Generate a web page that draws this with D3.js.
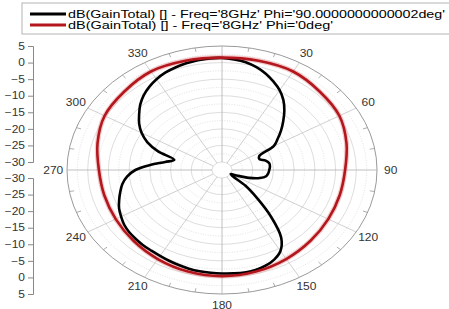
<!DOCTYPE html>
<html>
<head>
<meta charset="utf-8">
<script src="https://cdn.jsdelivr.net/npm/d3@7"></script>
<style>
  body { margin: 0; background: #fff; }
  svg { display: block; font-family: "Liberation Sans", Arial, sans-serif; }
</style>
</head>
<body>
<div id="chart"></div>
<script>
// dB(GainTotal), Phi = 90 deg cut, theta every 5 deg
const thetaBlack = d3.range(0, 360, 5);
const gainBlack = [
   1.4,  1.1,  0.6, -0.3, -1.5, -3.0, -4.6, -6.6, -9.0, -11.5, -13.8, -16.0,
 -18.0, -22.5, -22.8, -21.5, -20.8, -20.8, -21.0, -21.2, -21.6, -23.0, -25.5, -28.5,
 -30.5, -29.5, -25.0, -20.5, -14.0, -7.5, -4.2, -2.6, -1.7, -1.2, -1.0, -1.1,
  -1.2, -1.3, -1.4, -1.6, -1.9, -2.2, -2.5, -2.7, -2.8, -3.0, -3.2, -3.6,
  -4.3, -5.0, -6.0, -7.0, -8.0, -9.4, -11.5, -15.0, -18.5, -20.5, -16.0, -12.5,
 -10.0, -8.0, -6.3, -4.5, -3.0, -1.8, -0.8,  0.0,  0.5,  0.9,  1.2,  1.4
];
// Phi = 0 deg cut, theta every 15 deg
const thetaRed = d3.range(0, 360, 15);
const gainRed = [
   1.5,  1.7,  1.9,  1.0,  0.3, -1.3, -2.7, -3.0, -2.8, -2.2, -1.4, -0.7,
  -0.4, -0.7, -1.4, -2.2, -2.8, -3.0, -2.7, -1.3,  0.3,  1.0,  1.9,  1.7
];
const radialTicks = [-30, -25, -20, -15, -10, -5, 0, 5];
const radialMinor = [-27.5, -22.5, -17.5, -12.5, -7.5, -2.5, 2.5];
const angleTicks = [0, 30, 60, 90, 120, 150, 180, 210, 240, 270, 300, 330];
const angleLabels = [30, 60, 90, 120, 150, 180, 210, 240, 270, 300, 330];
const angleMinor = [10, 20, 40, 50, 70, 80, 100, 110, 130, 140, 160, 170, 190, 200, 220, 230, 250, 260, 280, 290, 310, 320, 340, 350];
const legendLabels = [
  "dB(GainTotal) [] - Freq='8GHz' Phi='90.0000000000002deg'",
  "dB(GainTotal) [] - Freq='8GHz' Phi='0deg'"
];
const seriesColors = ["#000000", "#b3161c"];

const width = 449, height = 309;
const cx = 222, cy = 170, sx = 1.25;   // picture is stretched sideways

const r = d3.scaleLinear().domain([-30, 5]).range([8, 124]).clamp(true);

function pt(theta, v) {
  const a = theta * Math.PI / 180, rr = r(v);
  return [cx + rr * Math.sin(a) * sx, cy - rr * Math.cos(a)];
}

const svg = d3.select("#chart").append("svg")
  .attr("width", width)
  .attr("height", height);

// grid
const grid = svg.append("g").attr("class", "grid");
grid.selectAll(".minor").data(radialMinor).enter().append("ellipse")
  .attr("cx", cx).attr("cy", cy)
  .attr("rx", d => r(d) * sx).attr("ry", d => r(d))
  .attr("fill", "none").attr("stroke", "#d4d4d4")
  .attr("stroke-width", 0.7).attr("stroke-dasharray", "1,1.5");
grid.selectAll(".major").data(radialTicks).enter().append("ellipse")
  .attr("cx", cx).attr("cy", cy)
  .attr("rx", d => r(d) * sx).attr("ry", d => r(d))
  .attr("fill", "none")
  .attr("stroke", d => d === 5 ? "#9a9a9a" : "#cfcfcf")
  .attr("stroke-width", d => d === 5 ? 1 : 0.7);
grid.selectAll(".spoke").data(angleTicks).enter().append("line")
  .attr("x1", d => pt(d, -30)[0]).attr("y1", d => pt(d, -30)[1])
  .attr("x2", d => pt(d, 5)[0]).attr("y2", d => pt(d, 5)[1])
  .attr("stroke", d => d % 90 === 0 ? "#b0b0b0" : "#c4c4c4")
  .attr("stroke-width", 0.8);
grid.selectAll(".tick10").data(angleMinor).enter().append("line")
  .attr("x1", d => pt(d, 3.8)[0]).attr("y1", d => pt(d, 3.8)[1])
  .attr("x2", d => pt(d, 5)[0]).attr("y2", d => pt(d, 5)[1])
  .attr("stroke", "#9a9a9a").attr("stroke-width", 0.8);

// angle labels
svg.append("g").selectAll("text").data(angleLabels).enter().append("text")
  .attr("transform", d => {
    const a = d * Math.PI / 180;
    return `translate(${cx + 135 * Math.sin(a) * sx},${cy - 135 * Math.cos(a)}) scale(1.2,1)`;
  })
  .attr("text-anchor", "middle").attr("dy", "0.35em")
  .attr("font-size", 10).attr("fill", "#333")
  .text(d => d);

// traces
const line = d3.line().curve(d3.curveCatmullRomClosed.alpha(0.5));
const blackPts = thetaBlack.map((t, i) => pt(t, gainBlack[i]));
const redPts = thetaRed.map((t, i) => pt(t, gainRed[i]));

svg.append("path").attr("d", line(redPts))
  .attr("fill", "none").attr("stroke", "#e58c8c")
  .attr("stroke-opacity", 0.45).attr("stroke-width", 5);
svg.append("path").attr("d", line(blackPts))
  .attr("fill", "none").attr("stroke", seriesColors[0]).attr("stroke-width", 2.6);
svg.append("path").attr("d", line(redPts))
  .attr("fill", "none").attr("stroke", seriesColors[1]).attr("stroke-width", 2.6);

// left radial axis, drawn twice (upper and lower half)
const yTop = d3.scaleLinear().domain([-30, 5]).range([cy - r(-30), cy - r(5)]);
const yBot = d3.scaleLinear().domain([-30, 5]).range([cy + r(-30), cy + r(5)]);
[yTop, yBot].forEach(s => {
  const g = svg.append("g").attr("transform", "translate(33,0)");
  g.call(d3.axisLeft(s).tickValues(radialMinor).tickSize(3).tickFormat(""));
  g.call(d3.axisLeft(s).tickValues(radialTicks).tickSize(5).tickPadding(3));
  g.selectAll("path.domain").attr("stroke", "#888");
  g.selectAll("line").attr("stroke", "#888");
  g.selectAll("text")
    .attr("font-size", 10).attr("fill", "#333")
    .attr("font-family", "'Liberation Sans', Arial, sans-serif")
    .attr("x", -8 / 1.2)
    .attr("transform", "scale(1.2,1)");
});

// legend
const leg = svg.append("g");
leg.append("rect").attr("x", 22).attr("y", 3).attr("width", 440).attr("height", 31)
  .attr("fill", "#fff").attr("stroke", "#b4b4b4").attr("stroke-width", 1);
const legLen = [377, 265];
legendLabels.forEach((lab, i) => {
  const y = 14 + i * 11;
  leg.append("line").attr("x1", 30).attr("x2", 66).attr("y1", y).attr("y2", y)
    .attr("stroke", seriesColors[i]).attr("stroke-width", 3);
  leg.append("text").attr("x", 68).attr("y", y).attr("dy", "0.36em")
    .attr("font-size", 11.5).attr("fill", "#000")
    .attr("textLength", legLen[i]).attr("lengthAdjust", "spacingAndGlyphs")
    .text(lab);
});
</script>
</body>
</html>
